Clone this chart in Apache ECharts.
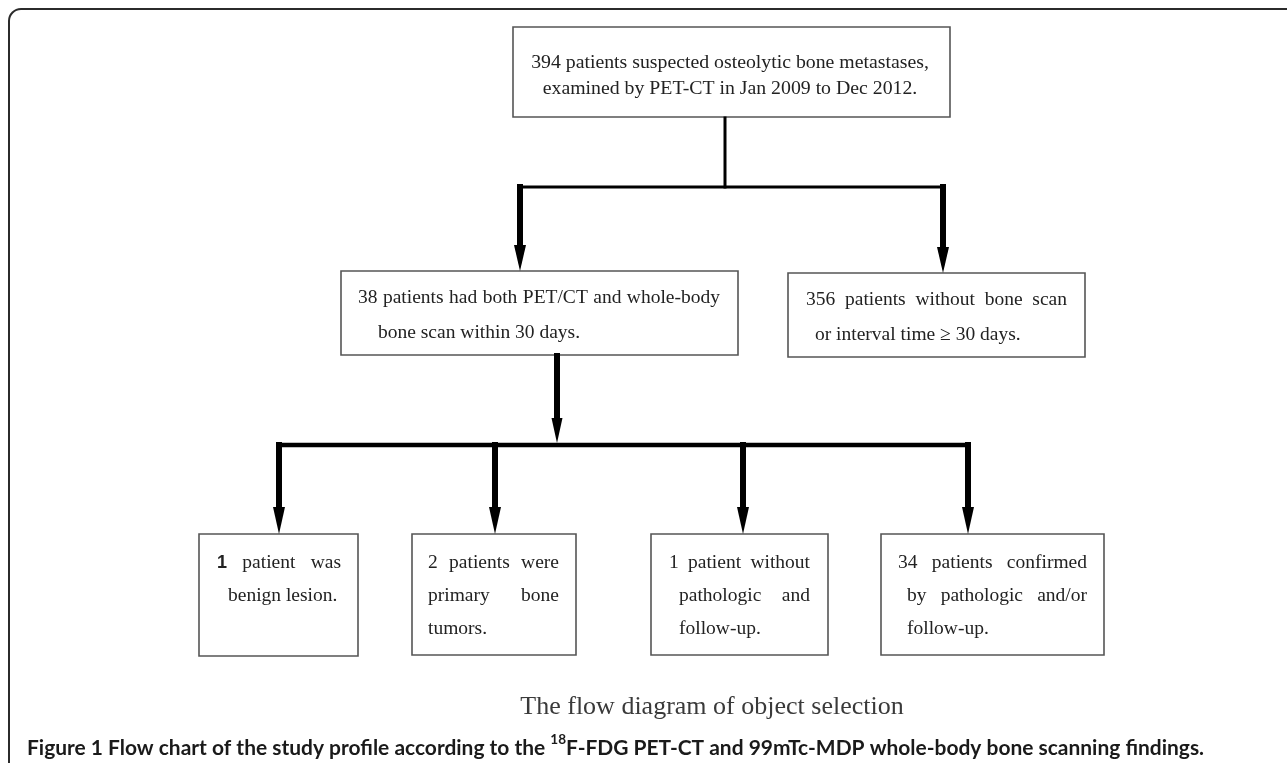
<!DOCTYPE html>
<html><head><meta charset="utf-8">
<script src="https://cdn.jsdelivr.net/npm/echarts@6/dist/echarts.min.js"></script>
<style>html,body{margin:0;padding:0;background:#fff}#chart{width:1287px;height:763px}</style>
</head><body><div id="chart"></div>
<script>
// ---------- DATA (texts of the flow chart) ----------
const topBoxLines = ['394 patients suspected osteolytic bone metastases,', 'examined by PET-CT in Jan 2009 to Dec 2012.'];
const includedLines = ['38 patients had both PET/CT and whole-body', 'bone scan within 30 days.'];
const excludedLines = ['356 patients without bone scan', 'or interval time \u2265 30 days.'];
const outcome1Lines = ['1 patient was', 'benign lesion.'];
const outcome2Lines = ['2 patients were', 'primary bone', 'tumors.'];
const outcome3Lines = ['1 patient without', 'pathologic and', 'follow-up.'];
const outcome4Lines = ['34 patients confirmed', 'by pathologic and/or', 'follow-up.'];
const diagramTitle = 'The flow diagram of object selection';
const captionLabel = 'Figure 1';
const captionParts = [' Flow chart of the study profile according to the ', '18', 'F-FDG PET-CT and 99mTc-MDP whole-body bone scanning findings.'];

// ---------- LAYOUT (positions / styles) ----------
const SERIF = '"Liberation Serif", "Times New Roman", serif';
const BOX_FONT = 19.5;
const layout = [
  {lines: topBoxLines, box: [513, 27, 950, 117], font: 19.8,
   pos: [{cx: 730, y: 63}, {cx: 730, y: 89}]},
  {lines: includedLines, box: [341, 271, 738, 355],
   pos: [{x0: 358, x1: 720, y: 298}, {x0: 378, y: 333}]},
  {lines: excludedLines, box: [788, 273, 1085, 357],
   pos: [{x0: 806, x1: 1067, y: 300}, {x0: 815, y: 335}]},
  {lines: outcome1Lines, box: [199, 534, 358, 656], firstWordFont: 'bold 18px "Liberation Sans", sans-serif',
   pos: [{x0: 217, x1: 341, y: 563}, {x0: 228, y: 596}]},
  {lines: outcome2Lines, box: [412, 534, 576, 655],
   pos: [{x0: 428, x1: 559, y: 563}, {x0: 428, x1: 559, y: 596}, {x0: 428, y: 629}]},
  {lines: outcome3Lines, box: [651, 534, 828, 655],
   pos: [{x0: 669, x1: 810, y: 563}, {x0: 679, x1: 810, y: 596}, {x0: 679, y: 629}]},
  {lines: outcome4Lines, box: [881, 534, 1104, 655],
   pos: [{x0: 898, x1: 1087, y: 563}, {x0: 907, x1: 1087, y: 596}, {x0: 907, y: 629}]}
];

const cv = document.createElement('canvas').getContext('2d');
function measure(t, font) { cv.font = font; return cv.measureText(t).width; }

const elements = [];
// outer frame
elements.push({type: 'rect', shape: {x: 9, y: 9, width: 1320, height: 800, r: [12, 0, 0, 0]},
  style: {fill: 'none', stroke: '#2b2b2b', lineWidth: 2}, silent: true});

function txt(t, x, y, font, fill, align) {
  return {type: 'text', x: x, y: y, silent: true,
    style: {text: t, font: font, fill: fill, textAlign: align || 'left', textVerticalAlign: 'middle',
            align: align || 'left', verticalAlign: 'middle'}};
}

layout.forEach(b => {
  const [x0, y0, x1, y1] = b.box;
  elements.push({type: 'rect', shape: {x: x0, y: y0, width: x1 - x0, height: y1 - y0},
    style: {fill: '#fff', stroke: '#555', lineWidth: 1.6}, silent: true});
  const font = (b.font || BOX_FONT) + 'px ' + SERIF;
  b.lines.forEach((line, i) => {
    const p = b.pos[i];
    if (p.cx !== undefined) { elements.push(txt(line, p.cx, p.y, font, '#222', 'center')); return; }
    if (p.x1 === undefined) { elements.push(txt(line, p.x0, p.y, font, '#222', 'left')); return; }
    const words = line.split(' ');
    const fonts = words.map((w, k) => (i === 0 && k === 0 && b.firstWordFont) ? b.firstWordFont : font);
    const widths = words.map((w, k) => measure(w, fonts[k]));
    const sum = widths.reduce((a, c) => a + c, 0);
    const gap = words.length > 1 ? (p.x1 - p.x0 - sum) / (words.length - 1) : 0;
    let x = p.x0;
    words.forEach((w, k) => { elements.push(txt(w, x, p.y, fonts[k], '#222', 'left')); x += widths[k] + gap; });
  });
});

// connectors
function seg(xa, ya, xb, yb, lw) {
  elements.push({type: 'line', shape: {x1: xa, y1: ya, x2: xb, y2: yb}, silent: true,
    style: {stroke: '#000', lineWidth: lw, lineCap: 'square'}});
}
function arrow(x, ya, tip, lw, hl, hw) {
  seg(x, ya, x, tip - hl, lw);
  elements.push({type: 'polygon', silent: true,
    shape: {points: [[x - hw / 2, tip - hl], [x + hw / 2, tip - hl], [x, tip]]}, style: {fill: '#000'}});
}
seg(725, 118, 725, 187, 3);
seg(520, 187, 943, 187, 3.2);
arrow(520, 187, 271, 6, 26, 12);
arrow(943, 187, 273, 6, 26, 12);
arrow(557, 356, 443, 6, 25, 11);
seg(279, 445, 968, 445, 4.5);
[279, 495, 743, 968].forEach(x => arrow(x, 445, 534, 6, 27, 12));

// diagram title
elements.push(txt(diagramTitle, 712, 707, '26px ' + SERIF, '#3a3a3a', 'center'));

// caption: fit to width
const capStart = 27, capEnd = 1205;
const base = 18, fam = 'Lato, "Open Sans", sans-serif';
const bf = s => 'bold ' + s + 'px ' + fam;
let w0 = measure(captionLabel + captionParts[0], bf(base)) + measure(captionParts[1], bf(base * 0.65)) + measure(captionParts[2], bf(base));
const cs = base * (capEnd - capStart) / w0;
let cx = capStart;
const cy = 748;
elements.push(txt(captionLabel, cx, cy, bf(cs), '#1a1a1a', 'left'));
cx += measure(captionLabel, bf(cs));
elements.push(txt(captionParts[0], cx, cy, bf(cs), '#1a1a1a', 'left'));
cx += measure(captionParts[0], bf(cs));
elements.push(txt(captionParts[1], cx, cy - cs * 0.38, bf(cs * 0.65), '#1a1a1a', 'left'));
cx += measure(captionParts[1], bf(cs * 0.65));
elements.push(txt(captionParts[2], cx, cy, bf(cs), '#1a1a1a', 'left'));

const chart = echarts.init(document.getElementById('chart'), null, {renderer: 'canvas'});
chart.setOption({animation: false, backgroundColor: '#fff', graphic: {elements: elements}});
</script>
</body></html>
